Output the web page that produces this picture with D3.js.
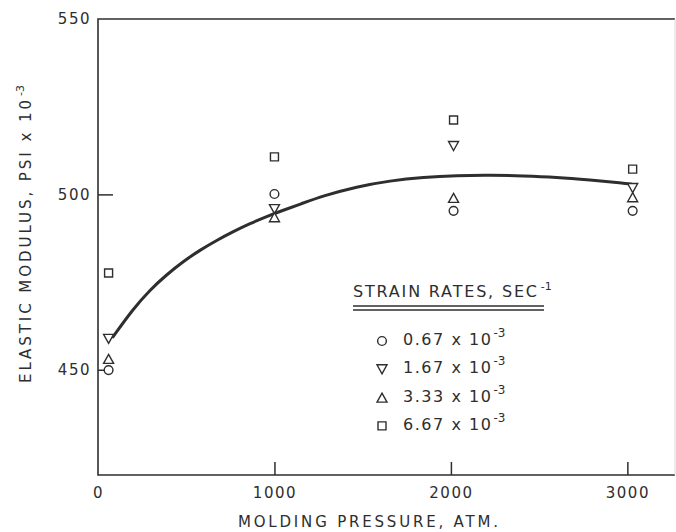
<!DOCTYPE html>
<meta charset="utf-8">
<script src="https://d3js.org/d3.v7.min.js"></script>
<title>Elastic modulus vs molding pressure</title>
<style>
  body { margin: 0; background: white; }
  svg text { font-family: "DejaVu Sans", sans-serif; fill: #2e2e2e; }
  .tick line { stroke: #2e2e2e; stroke-width: 1.5; }
</style>
<div id="chart"></div>
<script>
// molding pressure (atm) at which each group of points was measured
var pressures = [60, 1000, 2015, 3030];

// elastic modulus, psi x 10^-3, one list per strain rate
var rate067 = [449.9, 500.1, 495.3, 495.3];
var rate167 = [458.8, 495.8, 513.8, 501.8];
var rate333 = [453.1, 493.5, 499.0, 499.2];
var rate667 = [477.6, 510.7, 521.2, 507.2];

var rateLabels = ["0.67 x 10", "1.67 x 10", "3.33 x 10", "6.67 x 10"];
var rateSymbols = ["circle", "down", "up", "square"];

// smooth fitted curve
var curveX = [85, 200, 295, 389, 483, 578, 673, 767, 862, 956, 1050, 1145, 1277, 1466, 1655, 1844, 2033, 2222, 2410, 2599, 2788, 2977, 3025];
var curveY = [459.4, 467.4, 472.8, 477.1, 480.9, 484.1, 486.9, 489.4, 491.7, 493.7, 495.5, 497.2, 499.6, 502.2, 503.9, 504.9, 505.4, 505.5, 505.3, 504.9, 504.1, 503.2, 502.9];

var xTicks = [0, 1000, 2000, 3000];
var yTicks = [450, 500, 550];

var ink = "#2e2e2e";
var W = 676, H = 532;
var pL = 98, pR = 675, pT = 19, pB = 475;

var svg = d3.select("#chart").append("svg")
    .attr("width", W)
    .attr("height", H);

var x = d3.scaleLinear().domain([0, 3270]).range([pL, pR]);
var y = d3.scaleLinear().domain([420, 550]).range([pB, pT]);

// frame
svg.append("path")
    .attr("d", "M" + pR + "," + pT + "H" + pL + "V" + pB + "H" + pR)
    .attr("fill", "none")
    .attr("stroke", ink)
    .attr("stroke-width", 1.6);
svg.append("line")
    .attr("x1", pR).attr("x2", pR)
    .attr("y1", pT).attr("y2", pB)
    .attr("stroke", "#d8d8d8")
    .attr("stroke-width", 1);

// axes with inward ticks
var xAxis = svg.append("g")
    .attr("transform", "translate(0," + pB + ")")
    .call(d3.axisBottom(x).tickValues(xTicks).tickSizeInner(-13).tickSizeOuter(0).tickPadding(12).tickFormat(d3.format("d")));
xAxis.select(".domain").remove();
xAxis.selectAll(".tick").filter(function(d) { return d === 0; }).select("line").remove();
xAxis.selectAll("text")
    .style("font-size", "15px")
    .style("letter-spacing", "1.5px")
    .attr("fill", ink);

var yAxis = svg.append("g")
    .attr("transform", "translate(" + pL + ",0)")
    .call(d3.axisLeft(y).tickValues(yTicks).tickSizeInner(-15).tickSizeOuter(0).tickPadding(7));
yAxis.select(".domain").remove();
yAxis.selectAll(".tick").filter(function(d) { return d === 550; }).select("line").remove();
yAxis.selectAll("text")
    .style("font-size", "15px")
    .style("letter-spacing", "1.5px")
    .attr("fill", ink);

// axis titles
svg.append("text")
    .attr("x", 368)
    .attr("y", 527)
    .attr("text-anchor", "middle")
    .attr("textLength", 260)
    .attr("lengthAdjust", "spacing")
    .style("font-size", "15px")
    .text("MOLDING PRESSURE, ATM.");

var yl = svg.append("text")
    .attr("transform", "translate(31,383) rotate(-90)")
    .style("font-size", "15px");
yl.append("tspan")
    .attr("textLength", 283)
    .attr("lengthAdjust", "spacing")
    .text("ELASTIC MODULUS, PSI x 10");
yl.append("tspan")
    .attr("dy", -7)
    .attr("dx", 1)
    .style("font-size", "11px")
    .text("-3");

// fitted curve
var curvePts = curveX.map(function(d, i) { return [d, curveY[i]]; });
svg.append("path")
    .datum(curvePts)
    .attr("fill", "none")
    .attr("stroke", ink)
    .attr("stroke-width", 3)
    .attr("stroke-linecap", "round")
    .attr("d", d3.line()
        .x(function(d) { return x(d[0]); })
        .y(function(d) { return y(d[1]); })
        .curve(d3.curveBasis));

// marker shapes
function symbolPath(kind) {
  if (kind === "circle") return d3.symbol().type(d3.symbolCircle).size(60)();
  if (kind === "square") return "M-4,-4H4V4H-4Z";
  if (kind === "up") return "M0,-4.5L5,4.5L-5,4.5Z";
  return "M0,4.5L5,-4.5L-5,-4.5Z";
}

var series = [rate067, rate167, rate333, rate667];
series.forEach(function(vals, si) {
  svg.selectAll(".pt" + si)
    .data(vals)
    .enter()
    .append("path")
      .attr("class", "pt" + si)
      .attr("transform", function(d, i) { return "translate(" + x(pressures[i]) + "," + y(d) + ")"; })
      .attr("d", symbolPath(rateSymbols[si]))
      .attr("fill", "white")
      .attr("stroke", ink)
      .attr("stroke-width", 1.4);
});

// legend
var lg = svg.append("g");
var title = lg.append("text")
    .attr("x", 353)
    .attr("y", 297)
    .style("font-size", "16px");
title.append("tspan")
    .attr("textLength", 184)
    .attr("lengthAdjust", "spacing")
    .text("STRAIN RATES, SEC");
title.append("tspan")
    .attr("dy", -7)
    .attr("dx", 2)
    .style("font-size", "11px")
    .text("-1");
[306, 310].forEach(function(yy) {
  lg.append("line")
    .attr("x1", 353).attr("x2", 544)
    .attr("y1", yy).attr("y2", yy)
    .attr("stroke", ink)
    .attr("stroke-width", 1.3);
});

var rows = lg.selectAll(".row")
  .data(rateLabels)
  .enter()
  .append("g")
    .attr("class", "row")
    .attr("transform", function(d, i) { return "translate(0," + (345 + i * 28.3) + ")"; });
rows.append("path")
    .attr("transform", "translate(382,-4)")
    .attr("d", function(d, i) { return symbolPath(rateSymbols[i]); })
    .attr("fill", "white")
    .attr("stroke", ink)
    .attr("stroke-width", 1.4);
var rowText = rows.append("text")
    .attr("x", 403)
    .attr("y", 0)
    .style("font-size", "16px");
rowText.append("tspan")
    .attr("textLength", 88)
    .attr("lengthAdjust", "spacing")
    .text(function(d) { return d; });
rowText.append("tspan")
    .attr("dy", -8)
    .attr("dx", 1)
    .style("font-size", "12px")
    .text("-3");
</script>
